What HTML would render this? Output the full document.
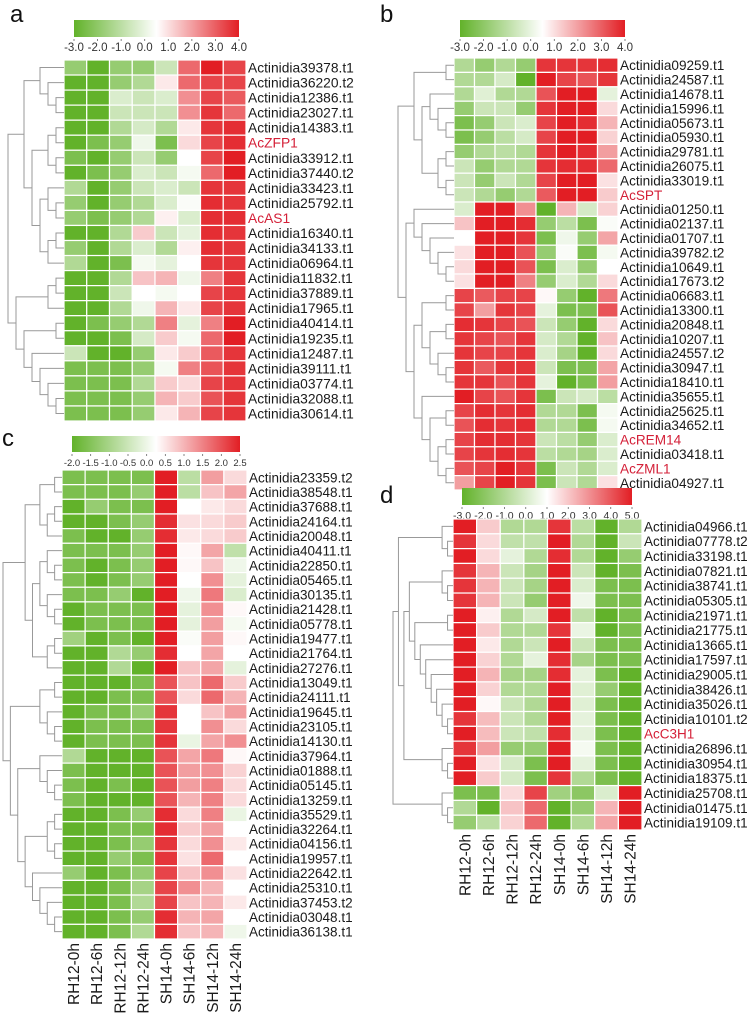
<!DOCTYPE html>
<html><head><meta charset="utf-8"><style>
html,body{margin:0;padding:0;background:#fff;}
svg{display:block;font-family:"Liberation Sans",Arial,sans-serif;}
</style></head><body>
<svg id="fig" width="752" height="1016" viewBox="0 0 752 1016" xmlns="http://www.w3.org/2000/svg"></svg>
<script>
const samples=["RH12-0h","RH12-6h","RH12-12h","RH12-24h","SH14-0h","SH14-6h","SH14-12h","SH14-24h"];
const ticksA=["-3.0","-2.0","-1.0","0.0","1.0","2.0","3.0","4.0"];
const ticksB=["-3.0","-2.0","-1.0","0.0","1.0","2.0","3.0","4.0"];
const ticksC=["-2.0","-1.5","-1.0","-0.5","0.0","0.5","1.0","1.5","2.0","2.5"];
const ticksD=["-3.0","-2.0","-1.0","0.0","1.0","2.0","3.0","4.0","5.0"];
const genesA=["Actinidia39378.t1","Actinidia36220.t2","Actinidia12386.t1","Actinidia23027.t1","Actinidia14383.t1","AcZFP1","Actinidia33912.t1","Actinidia37440.t2","Actinidia33423.t1","Actinidia25792.t1","AcAS1","Actinidia16340.t1","Actinidia34133.t1","Actinidia06964.t1","Actinidia11832.t1","Actinidia37889.t1","Actinidia17965.t1","Actinidia40414.t1","Actinidia19235.t1","Actinidia12487.t1","Actinidia39111.t1","Actinidia03774.t1","Actinidia32088.t1","Actinidia30614.t1"];
const valuesA=[
[-2,-3,-2,-2,-1,2,3,2.5],[-3,-3,-2,-1.5,0.3,2,2.5,2.5],[-3,-3,-0.7,-1,-0.7,1.5,2.5,2.2],[-3,-3,-1,-1,-1,1.5,2.7,2],
[-3,-3,-1.5,-0.8,-1.5,0.3,2.7,2.8],[-3,-2.5,-2,-0.3,-2.5,0.5,2.5,2.8],[-2.5,-3,-2,-1,-2,0,2.5,3],[-3,-2.5,-2,-0.7,-1,-0.2,2,3],
[-1.5,-3,-2,-1,-0.7,-1,2.7,2.7],[-2,-3,-2,-1.5,-0.7,-0.1,2.8,2.7],[-2,-2.5,-2,-1.5,0.2,-0.7,2.8,2.8],[-3,-3,-1.5,0.7,-1,-0.5,2.8,2.7],
[-2,-3,-1.5,-0.7,-1.5,0.2,2.8,2.7],[-1.5,-3,-2.5,-0.2,-0.5,0,2.7,2.7],[-3,-3,-1.5,0.8,1,-0.3,1.7,2.7],[-3,-3,-1,0,-0.2,0,2.5,2.7],
[-3,-3,-1.5,-0.3,1,0.3,2.5,2.7],[-3,-2.5,-2,-1.5,1.7,-0.5,1.7,3],[-3,-3,-2.5,-0.8,0.7,-0.2,2,3],[-1,-3,-3,-2,0.3,0.7,2.2,2.7],
[-2.5,-2.5,-2.5,-2,-0.2,1.7,2.3,2.7],[-2.5,-2.5,-2.5,-1.5,0.7,0.5,2.5,2.7],[-2.5,-2.5,-2.5,-2,1,0.7,2.3,2.7],[-2.5,-2.5,-2.5,-2,0.3,1,2.5,2.7]];
const treeA=[[[0,[1,[2,3]]],[[[4,5],[6,7]],[[8,[9,10]],[[11,12],13]]]],[[[14,15],16],[[17,18],[19,[20,[21,[22,23]]]]]]];
const genesB=["Actinidia09259.t1","Actinidia24587.t1","Actinidia14678.t1","Actinidia15996.t1","Actinidia05673.t1","Actinidia05930.t1","Actinidia29781.t1","Actinidia26075.t1","Actinidia33019.t1","AcSPT","Actinidia01250.t1","Actinidia02137.t1","Actinidia01707.t1","Actinidia39782.t2","Actinidia10649.t1","Actinidia17673.t2","Actinidia06683.t1","Actinidia13300.t1","Actinidia20848.t1","Actinidia10207.t1","Actinidia24557.t2","Actinidia30947.t1","Actinidia18410.t1","Actinidia35655.t1","Actinidia25625.t1","Actinidia34652.t1","AcREM14","Actinidia03418.t1","AcZML1","Actinidia04927.t1"];
const valuesB=[
[-1.5,-2,-1.5,-2,2.7,2.7,2.7,2.8],[-1.5,-1.5,-0.8,-3,3,2.5,2.3,2.7],[-1.5,-0.6,-1.5,-1.5,2.3,3,3,-0.5],[-2,-1,-1,-2,2.7,3,3,0.5],
[-2.5,-2,-1,-0.7,2.5,3,2.8,1],[-2.5,-2,-1.3,-0.8,2.5,3,3,0.6],[-2,-1.5,-1.3,-1.5,2.7,3,2.8,1.3],[-1,-2,-1.5,-1.5,2.7,2.8,2.8,2],
[-1,-2,-1,-1.5,2.5,3,3,0.4],[-1,-1.5,-2,-1.5,2.2,3,3,0.7],[-0.7,3,3,1.5,-3,1,-0.8,0.6],[0.8,3,3,2.8,-2,-1.3,-2.5,-0.1],
[0,3,3,2.7,-2.5,-0.3,-2,1.2],[0.4,3,3,2.3,-2,-0.1,-2.5,-0.2],[0.5,3,3,2.3,-2.5,-0.7,-2,0],[0.4,3,3,1.7,-2,-0.7,-1.5,0.5],
[2.5,2.2,2.5,2.5,0.1,-2,-3,1.8],[2.5,1.3,2.7,2.5,-0.5,-2.5,-2.5,2.3],[2.8,2.7,2.5,2.3,-1,-2,-3,0.5],[2.7,2.5,2.3,2.7,-0.8,-1.5,-3,0.8],
[2.7,2.5,2.5,2.7,-0.7,-1.7,-3,0.5],[2.7,2.2,2.7,2.7,-1,-2.5,-2.5,1.2],[2.7,2.7,2.3,2.7,-0.5,-3,-2.5,1.3],[3,2.5,2.3,2.7,-2.5,-1,-0.8,-1.3],
[2.5,2.8,2.7,2.8,-1.5,-1.5,-2.5,-0.2],[2.3,2.8,2.7,2.8,-1.5,-1.5,-2.5,-0.2],[2.5,2.8,2.8,2.7,-1,-1.3,-2,-0.7],[2.5,2.7,2.8,2.7,-1.3,-1.5,-1.7,-0.7],
[2.3,2.5,3,2.7,-2.5,-1,-1.5,-0.7],[1.3,2.5,3,2.7,-2.5,-1,-1.5,0.4]];
const treeB=[[[0,1],[[2,[3,[4,5]]],[[6,7],[8,9]]]],[[10,[11,[12,[13,[14,15]]]]],[[[16,17],[[18,19],[20,[21,22]]]],[23,[[24,25],[[26,27],[28,29]]]]]]];
const genesC=["Actinidia23359.t2","Actinidia38548.t1","Actinidia37688.t1","Actinidia24164.t1","Actinidia20048.t1","Actinidia40411.t1","Actinidia22850.t1","Actinidia05465.t1","Actinidia30135.t1","Actinidia21428.t1","Actinidia05778.t1","Actinidia19477.t1","Actinidia21764.t1","Actinidia27276.t1","Actinidia13049.t1","Actinidia24111.t1","Actinidia19645.t1","Actinidia23105.t1","Actinidia14130.t1","Actinidia37964.t1","Actinidia01888.t1","Actinidia05145.t1","Actinidia13259.t1","Actinidia35529.t1","Actinidia32264.t1","Actinidia04156.t1","Actinidia19957.t1","Actinidia22642.t1","Actinidia25310.t1","Actinidia37453.t2","Actinidia03048.t1","Actinidia36138.t1"];
const valuesC=[
[-2.5,-2.5,-2.5,-2.5,3,-1.3,1.3,0.5],[-2.5,-2.5,-2.5,-2,3,-1.3,0.8,1.2],[-3,-2,-2.5,-2.5,3,0,0.3,0.5],[-3,-3,-2.5,-2,2.8,0.4,0.5,0.7],
[-2.5,-3,-3,-2,2.8,0.3,0.5,0.7],[-2.5,-2.5,-2.5,-2,3,0.1,1.2,-1.2],[-2.5,-3,-2.5,-2,3,0.1,0.8,-0.3],[-2.5,-3,-2.5,-2,3,0,1.5,-0.5],
[-2.5,-2.5,-2,-3,3,-0.3,1.8,-0.7],[-3,-2.5,-2.5,-2.5,3,-0.5,1.5,0.1],[-3,-2.5,-2.5,-2.5,3,-0.5,1.3,-0.2],[-1.8,-3,-2.5,-3,3,-0.1,1.3,0.1],
[-3,-3,-1.5,-2,2.8,0,1.2,0],[-3,-3,-1.5,-3,3,0.8,1.2,-0.5],[-3,-3,-3,-2.5,2.3,0.8,2,0.7],[-3,-3,-2.5,-2.5,2.3,0.5,2,1],
[-3,-2.5,-2.5,-2,2.7,0,0.8,1.3],[-3,-2.5,-2.5,-2.5,2.7,0,1.5,0.5],[-3,-2.5,-2.5,-2.5,2.7,-0.4,1.2,1.5],[-1.5,-3,-3,-3,2.3,1.2,1.8,0.1],
[-2.5,-3,-3,-3,2.3,1.3,1.5,0.6],[-2.5,-3,-2.5,-3,2.3,1.3,1.7,0.5],[-2.5,-3,-3,-3,2.3,1,1.7,0.5],[-3,-3,-2.5,-2,2.8,0.5,1.7,-0.4],
[-3,-3,-2.5,-2.5,2.8,0.7,1.3,0],[-3,-3,-2.5,-2,2.7,0.5,1.5,0.3],[-3,-3,-2,-2.5,2.7,0.4,2,0],[-2,-3,-2.5,-2,2.5,0.8,1.5,0.4],
[-3,-3,-2.5,-1.7,2.5,1.5,1,0],[-3,-3,-2.5,-1.5,2.5,0.8,1,0.3],[-3,-3,-2.5,-2,2.8,1,1.2,0],[-3,-3,-2.5,-1.5,2.8,0.8,1,-0.3]];
const treeC=[[[[0,1],[[2,3],4]],[[[5,[6,7]],[8,[9,10]]],[[11,12],13]]],[[[14,15],[16,[17,18]]],[[19,[20,[21,22]]],[[[23,24],[25,26]],[27,[28,[29,[30,31]]]]]]]];
const genesD=["Actinidia04966.t1","Actinidia07778.t2","Actinidia33198.t1","Actinidia07821.t1","Actinidia38741.t1","Actinidia05305.t1","Actinidia21971.t1","Actinidia21775.t1","Actinidia13665.t1","Actinidia17597.t1","Actinidia29005.t1","Actinidia38426.t1","Actinidia35026.t1","Actinidia10101.t2","AcC3H1","Actinidia26896.t1","Actinidia30954.t1","Actinidia18375.t1","Actinidia25708.t1","Actinidia01475.t1","Actinidia19109.t1"];
const valuesD=[
[3,0.7,-1.5,-1.5,2.7,-1.3,-3,-1.5],[2.7,0.5,-1.2,-1.2,3,-1.5,-3,-1],[3,0.5,-0.5,-1.5,2.8,-1.5,-3,-2],[2.7,1,-1,-1.7,3,-1,-3,-2.5],
[2.7,1,-1,-1.7,3,-0.7,-2.5,-2.5],[2.7,1,-1,-2,3,-0.3,-2.5,-2.5],[3,0.2,-1.5,-0.8,3,-1.2,-3,-2.5],[3,0.7,-1.5,-1.5,2.7,-0.4,-3,-2.5],
[3,0.3,-1.5,-1,3,-1,-2.5,-2.5],[3,0.6,-1.5,-0.5,2.8,-1.7,-2.5,-2.5],[3,1,-1.7,-1.7,2.8,-0.5,-2.5,-3],[3,0.6,-1.5,-1.5,3,-0.6,-2,-3],
[3,0.1,-1,-1.5,3,-0.6,-2.5,-3],[2.7,0.9,-1,-1.5,3,-0.5,-2.5,-3],[3,0.9,-1,-1.2,2.8,-0.5,-2.5,-3],[2.7,1.3,-2,-2,3,-0.2,-2.5,-3],
[3,0.4,-0.8,-2.5,3,-0.5,-2.5,-3],[3,0.7,-0.8,-2.5,2.7,-1.5,-2.5,-3],[-2.5,-2.5,0.5,2.5,-1.8,-2.2,-0.7,3],[-1.5,-3,0.8,2,-3,-2,1,3],
[-2,-1.3,0.6,2,-3,-1.5,1.2,3]];
const treeD=[[[0,[1,2]],[[[3,[4,5]],[[6,7],[8,[9,[10,[11,[12,[13,14]]]]]]]],[15,[16,17]]]],[18,[19,20]]];

const NS="http://www.w3.org/2000/svg";
const svg=document.getElementById('fig');
function mk(tag,attrs,parent){const e=document.createElementNS(NS,tag);for(const k in attrs)e.setAttribute(k,attrs[k]);(parent||svg).appendChild(e);return e;}
function mix(a,b,t){return 'rgb('+[0,1,2].map(i=>Math.round(a[i]+(b[i]-a[i])*t)).join(',')+')';}
const GREEN=[98,178,42],RED=[226,30,36],WHITE=[255,255,255];
function color(v){const t=Math.max(-1,Math.min(1,v/3));return t<0?mix(WHITE,GREEN,-t):mix(WHITE,RED,t);}
function height(n){return Array.isArray(n)?1+Math.max(height(n[0]),height(n[1])):0;}

function panel(p){
  const g=mk('g',{});
  
  
  const t=mk('text',{x:p.lx,y:p.ly,'font-size':24,fill:'#111'},g);t.textContent=p.letter;
  
  const gid='grad'+p.letter;
  const defs=mk('defs',{},g);const lg=mk('linearGradient',{id:gid,x1:0,x2:1,y1:0,y2:0},defs);
  mk('stop',{offset:'0','stop-color':'rgb(98,178,42)'},lg);mk('stop',{offset:p.wpos,'stop-color':'#fff'},lg);mk('stop',{offset:'1','stop-color':'rgb(226,30,36)'},lg);
  const cb=mk('rect',{x:p.cb[0],y:p.cb[1],width:p.cb[2]-p.cb[0],height:p.cb[3]-p.cb[1],fill:'url(#'+gid+')'},g);
  
  const n=p.ticks.length;
  p.ticks.forEach((s,i)=>{const x=p.cb[0]+(p.cb[2]-p.cb[0])*i/(n-1);
    mk('line',{x1:x,x2:x,y1:p.cb[3]+2,y2:p.cb[3]+4,stroke:'#666','stroke-width':0.8},g);
    const tt=mk('text',{x:x,y:p.cb[3]+14,'font-size':p.tfs,'text-anchor':'middle',fill:'#333'},g);tt.textContent=s;
    });
  const rows=p.genes.length,rh=(p.bottom-p.top)/rows,cw=(p.right-p.left)/8;
  p.values.forEach((row,r)=>row.forEach((v,c)=>{
    const cell=mk('rect',{x:p.left+c*cw,y:p.top+r*rh,width:cw,height:rh,fill:color(v),stroke:'#fff','stroke-width':1.2},g);
    }));
  p.genes.forEach((s,r)=>{const tt=mk('text',{x:p.right+2,y:p.top+r*rh+rh/2+5,'font-size':p.fs,fill:/^Ac[A-Z]/.test(s)?'#d42038':'#1a1a1a'},g);tt.textContent=s;
    });
  if(p.cols){samples.forEach((s,c)=>{const x=p.left+c*cw+cw/2+5.5,y=p.bottom+4;
    const tt=mk('text',{x:x,y:y,'font-size':15.5,'text-anchor':'end',fill:'#1a1a1a',transform:'rotate(-90 '+x+' '+y+')'},g);tt.textContent=s;
    });}
  const H=height(p.tree),unit=(p.left-p.dx)/H;
  const dg=mk('g',{stroke:'#999','stroke-width':1,fill:'none'},g);
  
  function draw(node){
    if(!Array.isArray(node))return {x:p.left,y:p.top+node*rh+rh/2};
    const a=draw(node[0]),b=draw(node[1]),x=p.left-height(node)*unit;
    mk('path',{d:'M'+a.x+' '+a.y+'H'+x+'V'+b.y+'H'+b.x},dg);
    return {x:x,y:(a.y+b.y)/2};
  }
  draw(p.tree);
}
panel({letter:'a',lx:10,ly:22,cb:[74,20,239,37],ticks:ticksA,tfs:11.5,wpos:0.5,genes:genesA,values:valuesA,tree:treeA,left:64,right:246,top:60,bottom:421,dx:8,fs:13.8,cols:false});
panel({letter:'b',lx:380,ly:22,cb:[460,20,625,37],ticks:ticksB,tfs:11.5,wpos:0.5,genes:genesB,values:valuesB,tree:treeB,left:454,right:618,top:58,bottom:490,dx:398,fs:13.6,cols:false});
panel({letter:'c',lx:2,ly:446,cb:[72,436,240,452],ticks:ticksC,tfs:9.5,wpos:0.5,genes:genesC,values:valuesC,tree:treeC,left:62,right:247,top:470,bottom:939,dx:3,fs:13.5,cols:true});
panel({letter:'d',lx:380,ly:503,cb:[462,488,632,505],ticks:ticksD,tfs:10.5,wpos:0.5,genes:genesD,values:valuesD,tree:treeD,left:453,right:642,top:519,bottom:830,dx:393,fs:13.5,cols:true});
</script>
</body></html>
